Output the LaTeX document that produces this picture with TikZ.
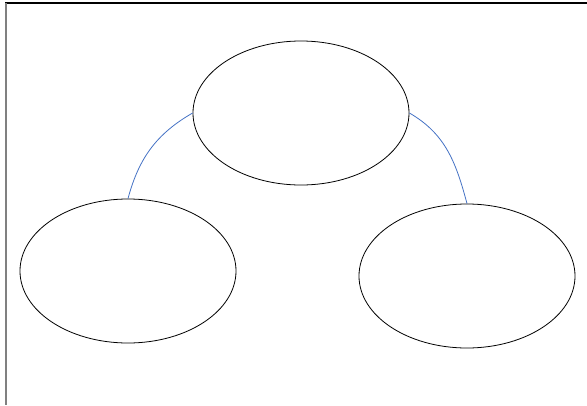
\documentclass[tikz,border=0pt]{standalone}
\usetikzlibrary{shapes.geometric}
\definecolor{linkblue}{RGB}{68,114,196}
\tikzset{
  bubble/.style={draw, ellipse, line width=0.8pt, minimum width=216pt, minimum height=144pt, inner sep=0pt},
  link/.style={draw=linkblue, line width=0.8pt}
}
\begin{document}
\begin{tikzpicture}[x=1pt, y=1pt]
    \useasboundingbox (0,0) rectangle (587,-405);
    \coordinate (TL) at (5,-3);
    \coordinate (TR) at (587,-3);
    \coordinate (BL) at (6,-405);
    \draw[line width=1.1pt] (TL) -- (TR);
    \draw[gray, line width=1.3pt] (6,-3) -- (BL);
    \node[bubble] (top) at (301,-113) {};
    \node[bubble] (left) at (128,-271) {};
    \node[bubble] (right) at (467,-276) {};
    \draw[link] (top.west) to[out=210, in=75] (left.north);
    \draw[link] (top.east) to[out=-30, in=105] (right.north);
  \end{tikzpicture}
\end{document}
